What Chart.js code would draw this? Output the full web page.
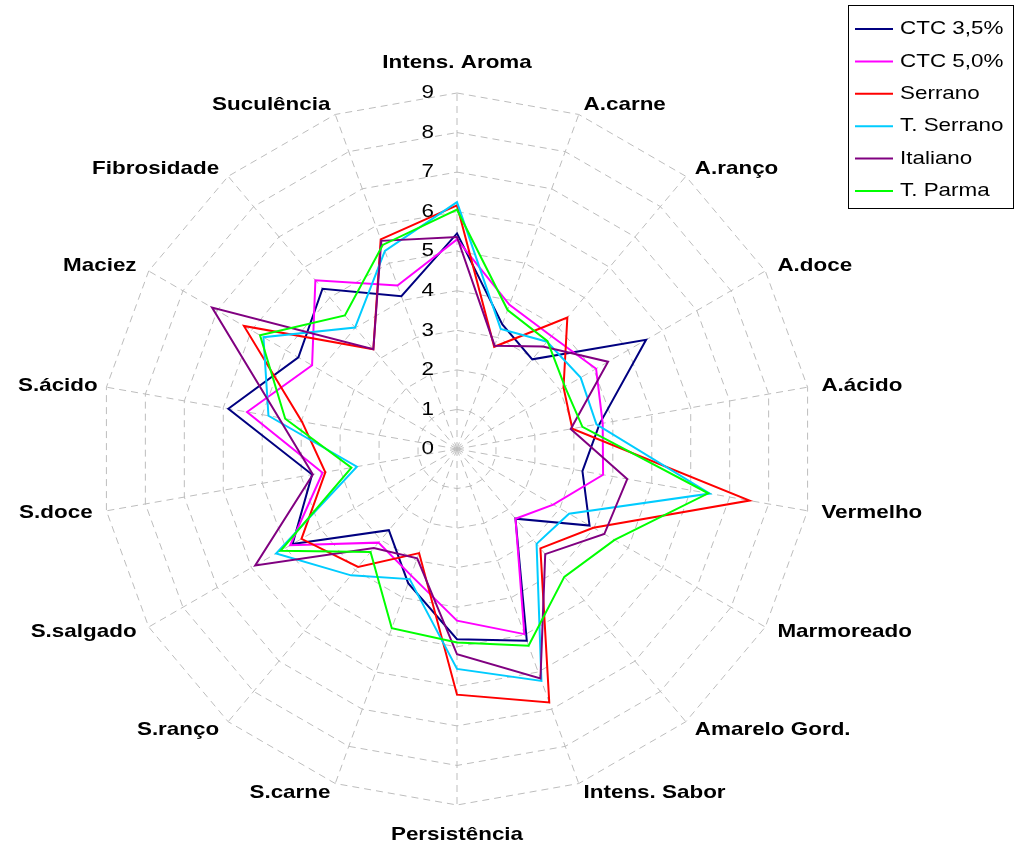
<!DOCTYPE html>
<html>
<head>
<meta charset="utf-8">
<script src="https://cdn.jsdelivr.net/npm/chart.js@4.4.1/dist/chart.umd.min.js"></script>
<style>
  html, body { margin: 0; padding: 0; background: #fff; }
  canvas { display: block; }
</style>
</head>
<body>
<canvas id="radar" width="1015" height="846"></canvas>
<script>
// ── Data ─────────────────────────────────────────────────────────
const categories = [
  "Intens. Aroma", "A.carne", "A.ranço", "A.doce", "A.ácido", "Vermelho",
  "Marmoreado", "Amarelo Gord.", "Intens. Sabor", "Persistência", "S.carne",
  "S.ranço", "S.salgado", "S.doce", "S.ácido", "Maciez", "Fibrosidade", "Suculência"
];
const tickValues = [0, 1, 2, 3, 4, 5, 6, 7, 8, 9];
const seriesNames = ["CTC 3,5%", "CTC 5,0%", "Serrano", "T. Serrano", "Italiano", "T. Parma"];
const seriesColors = ["#000080", "#ff00ff", "#ff0000", "#00ccff", "#800080", "#00ff00"];

const ctc35    = [5.45, 3.35, 2.96, 5.52, 3.66, 3.22, 3.87, 2.30, 5.16, 4.81, 3.61, 2.68, 4.80, 3.72, 5.87, 4.63, 5.29, 4.11];
const ctc50    = [5.30, 3.88, 3.72, 4.06, 3.74, 3.75, 2.81, 2.30, 4.98, 4.34, 3.40, 3.09, 4.87, 3.45, 5.39, 4.23, 5.57, 4.40];
const serrano  = [6.16, 2.75, 4.34, 3.11, 2.96, 7.51, 3.98, 3.28, 6.82, 6.21, 2.80, 3.89, 4.54, 3.38, 3.98, 6.22, 3.29, 5.64];
const tSerrano = [6.24, 3.23, 3.54, 3.61, 3.58, 6.49, 3.27, 3.13, 6.24, 5.56, 3.50, 4.17, 5.28, 2.57, 4.84, 5.65, 4.01, 5.33];
const italiano = [5.36, 2.78, 3.38, 4.41, 2.92, 4.37, 4.30, 3.47, 6.17, 5.19, 2.94, 3.27, 5.89, 3.70, 4.58, 7.15, 3.29, 5.60];
const tParma   = [6.05, 3.74, 3.56, 3.15, 3.22, 6.45, 4.60, 4.22, 5.29, 4.89, 4.82, 3.40, 5.15, 2.71, 4.41, 5.75, 4.41, 5.49];
const seriesValues = [ctc35, ctc50, serrano, tSerrano, italiano, tParma];

// ── Text helpers (the original text is a bit wide) ───────────────
const FONT = "'Liberation Sans', Arial, sans-serif";
const STRETCH = 1.18;
function drawText(ctx, text, x, y, align, font) {
  ctx.save();
  ctx.font = font;
  ctx.fillStyle = "#000";
  ctx.textAlign = align;
  ctx.textBaseline = "middle";
  ctx.translate(x, y);
  ctx.scale(STRETCH, 1);
  ctx.fillText(text, 0, 0);
  ctx.restore();
}
function textWidth(ctx, text, font) {
  ctx.save(); ctx.font = font;
  const w = ctx.measureText(text).width * STRETCH;
  ctx.restore();
  return w;
}

// ── Tick numbers, left of the vertical axis ──────────────────────
const tickLabelPlugin = {
  id: "tickLabels",
  beforeDatasetsDraw(chart) {
    const s = chart.scales.r, ctx = chart.ctx;
    tickValues.forEach(v => {
      const y = s.yCenter - s.getDistanceFromCenterForValue(v);
      drawText(ctx, String(v), s.xCenter - 23, y, "right", "19px " + FONT);
    });
  }
};

// ── Category labels round the web ────────────────────────────────
const pointLabelPlugin = {
  id: "catLabels",
  afterDraw(chart) {
    const s = chart.scales.r, ctx = chart.ctx;
    const font = "bold 19px " + FONT;
    const n = categories.length;
    categories.forEach((lab, i) => {
      const deg = i * 360 / n;
      const a = deg * Math.PI / 180;
      if (deg === 0 || deg === 180) {
        const y = s.yCenter - Math.cos(a) * (s.drawingArea + 30);
        drawText(ctx, lab, s.xCenter, y, "center", font);
        return;
      }
      let x = s.xCenter + Math.sin(a) * (s.drawingArea + 14);
      const y = s.yCenter - Math.cos(a) * (s.drawingArea + 10);
      const align = deg < 180 ? "left" : "right";
      if (align === "right") {
        const w = textWidth(ctx, lab, font);
        if (x - w < 18) x = 18 + w;
      }
      drawText(ctx, lab, x, y, align, font);
    });
  }
};

// ── Boxed legend, top right ──────────────────────────────────────
const legendBoxPlugin = {
  id: "legendBox",
  afterDraw(chart) {
    const ctx = chart.ctx;
    ctx.save();
    ctx.strokeStyle = "#000";
    ctx.lineWidth = 1;
    ctx.strokeRect(848.5, 5.5, 165, 203);
    chart.data.datasets.forEach((ds, i) => {
      const y = 29 + i * 32.4;
      ctx.strokeStyle = ds.borderColor;
      ctx.lineWidth = 2;
      ctx.beginPath();
      ctx.moveTo(855, y);
      ctx.lineTo(893, y);
      ctx.stroke();
      drawText(ctx, ds.label, 900, y, "left", "19px " + FONT);
    });
    ctx.restore();
  }
};

new Chart(document.getElementById("radar"), {
  type: "radar",
  data: {
    labels: categories,
    datasets: seriesNames.map((name, i) => ({
      label: name,
      data: seriesValues[i],
      borderColor: seriesColors[i],
      backgroundColor: "transparent",
      borderWidth: 2,
      pointRadius: 0,
      fill: false,
      tension: 0,
      order: seriesNames.length - i
    }))
  },
  options: {
    responsive: false,
    animation: false,
    layout: { padding: { left: 101, right: 202, top: 93, bottom: 41 } },
    plugins: { legend: { display: false }, tooltip: { enabled: false } },
    scales: {
      r: {
        min: 0, max: 9,
        ticks: { stepSize: 1, display: false },
        pointLabels: { display: false },
        grid: { color: "#bdbdbd", lineWidth: 1 },
        border: { dash: [7, 5] },
        angleLines: { color: "#bdbdbd", lineWidth: 1, borderDash: [7, 5] }
      }
    }
  },
  plugins: [tickLabelPlugin, pointLabelPlugin, legendBoxPlugin]
});
</script>
</body>
</html>
